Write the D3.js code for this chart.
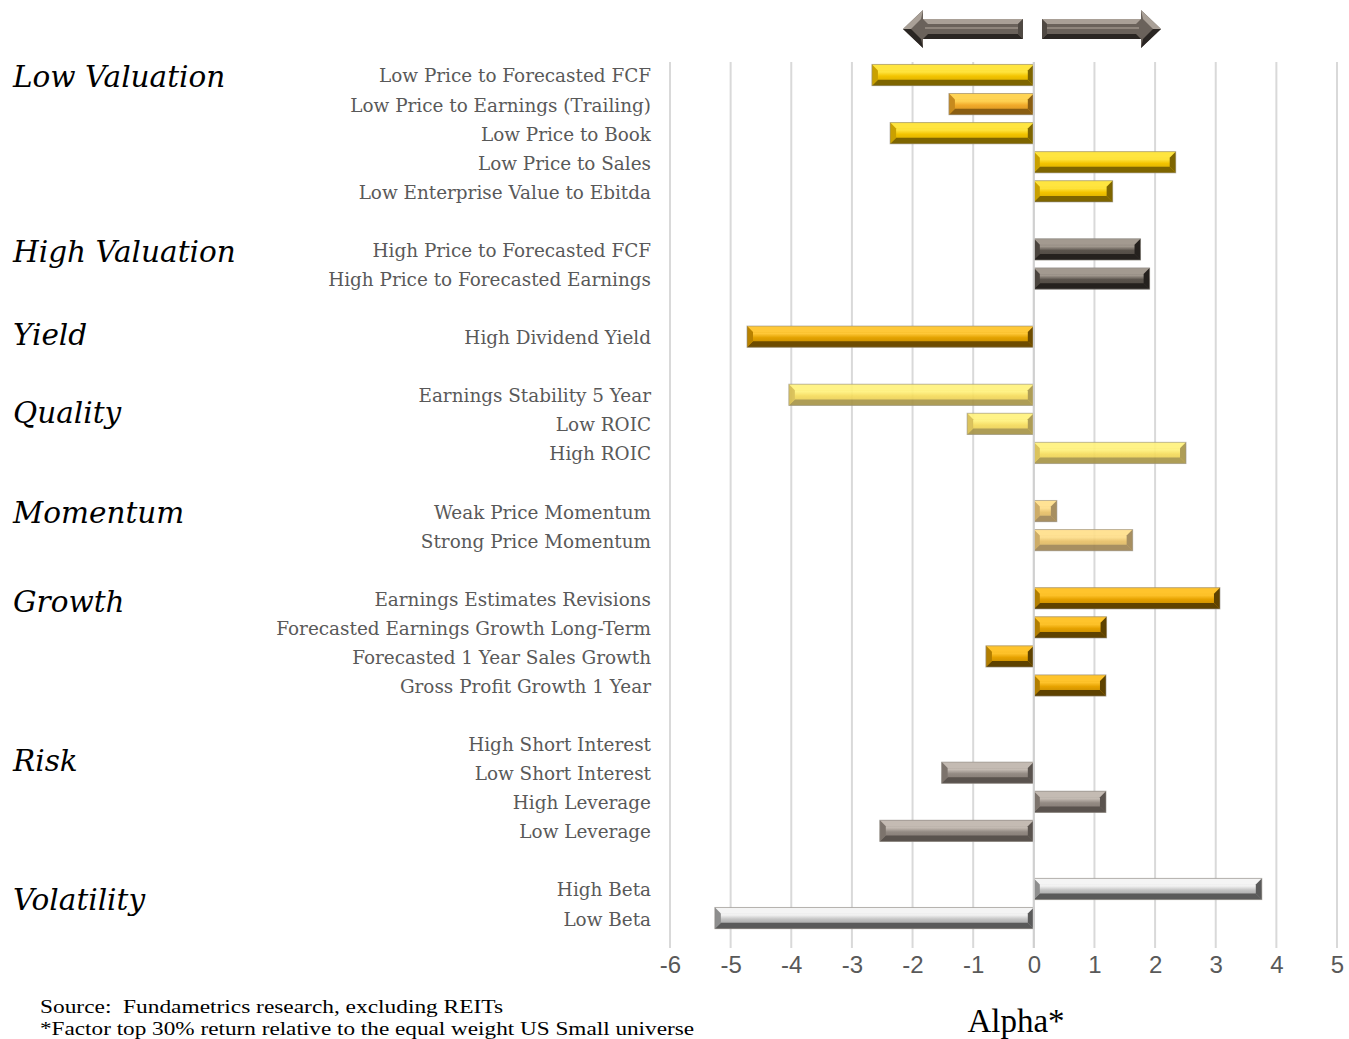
<!DOCTYPE html>
<html>
<head>
<meta charset="utf-8">
<script src="https://cdnjs.cloudflare.com/ajax/libs/d3/7.8.5/d3.min.js"></script>
<style>
  html, body { margin: 0; padding: 0; background: #fff; }
  svg { display: block; }
</style>
</head>
<body>
<svg id="chart" width="1349" height="1039"></svg>
<script>
// Factor rows, top to bottom; "" marks a spacer row between groups.
const factors = [
  "Low Price to Forecasted FCF", "Low Price to Earnings (Trailing)", "Low Price to Book",
  "Low Price to Sales", "Low Enterprise Value to Ebitda", "",
  "High Price to Forecasted FCF", "High Price to Forecasted Earnings", "",
  "High Dividend Yield", "",
  "Earnings Stability 5 Year", "Low ROIC", "High ROIC", "",
  "Weak Price Momentum", "Strong Price Momentum", "",
  "Earnings Estimates Revisions", "Forecasted Earnings Growth Long-Term",
  "Forecasted 1 Year Sales Growth", "Gross Profit Growth 1 Year", "",
  "High Short Interest", "Low Short Interest", "High Leverage", "Low Leverage", "",
  "High Beta", "Low Beta"
];
// Alpha (%) per factor row
const alpha = [
  -2.67, -1.40, -2.37, 2.34, 1.30, null,
  1.76, 1.91, null,
  -4.73, null,
  -4.04, -1.10, 2.51, null,
  0.38, 1.63, null,
  3.07, 1.20, -0.79, 1.19, null,
  0, -1.52, 1.19, -2.54, null,
  3.76, -5.26
];
// Colour style per factor row
const styleKey = [
  "lowval", "lowpe", "lowval", "lowval", "lowval", null,
  "highval", "highval", null,
  "yield", null,
  "quality", "quality", "quality", null,
  "momentum", "momentum", null,
  "growth", "growth", "growth", "growth", null,
  "risk", "risk", "risk", "risk", null,
  "vol", "vol"
];
// Group headings and the row they sit beside
const groups = ["Low Valuation", "High Valuation", "Yield", "Quality", "Momentum", "Growth", "Risk", "Volatility"];
const groupRow = [0, 6, 8.85, 11.55, 15, 18.05, 23.5, 28.3];
const xTicks = [-6, -5, -4, -3, -2, -1, 0, 1, 2, 3, 4, 5];
const notes = [
  "Source:  Fundametrics research, excluding REITs",
  "*Factor top 30% return relative to the equal weight US Small universe"
];

const palette = {
  lowval:   { face: "#F3C400", light: "#FFE540", mid: "#C9A000", dark: "#7E6500" },
  lowpe:    { face: "#F2AA2A", light: "#FFD455", mid: "#C68A1E", dark: "#8A5E12" },
  highval:  { face: "#5A534C", light: "#A39A90", mid: "#4A443E", dark: "#25211E" },
  yield:    { face: "#E3A200", light: "#FFC838", mid: "#B88200", dark: "#6E4C00" },
  quality:  { face: "#F6DC5C", light: "#FFF27E", mid: "#D8BE50", dark: "#A89548" },
  momentum: { face: "#E8C168", light: "#FFE08C", mid: "#C9A65C", dark: "#A08654" },
  growth:   { face: "#E6A200", light: "#FFC42C", mid: "#B27E00", dark: "#5E4200" },
  risk:     { face: "#938A83", light: "#C4BBB3", mid: "#7C736C", dark: "#5A534E" },
  vol:      { face: "#C4C4C4", light: "#F4F4F4", mid: "#8E8E8E", dark: "#5A5A5A" }
};

const svg = d3.select("#chart");
const x = d3.scaleLinear().domain([-6, 5]).range([670, 1337]);
const y = d3.scaleBand().domain(d3.range(factors.length)).range([60.5, 932.6]).paddingInner(0.27).paddingOuter(0.135);

const defs = svg.append("defs");
// face gradient per colour style: light band in the upper middle, darker toward the bottom
Object.entries(palette).forEach(([k, c]) => {
  const g = defs.append("linearGradient").attr("id", "face-" + k)
    .attr("x1", 0).attr("y1", 0).attr("x2", 0).attr("y2", 1);
  g.append("stop").attr("offset", "0%").attr("stop-color", c.face);
  g.append("stop").attr("offset", "35%").attr("stop-color", c.light);
  g.append("stop").attr("offset", "55%").attr("stop-color", c.face);
  g.append("stop").attr("offset", "100%").attr("stop-color", c.mid);
});

// vertical gridlines
svg.append("g").selectAll("line").data(xTicks).join("line")
  .attr("x1", d => x(d)).attr("x2", d => x(d))
  .attr("y1", 62).attr("y2", 948)
  .attr("stroke", "#d9d9d9").attr("stroke-width", 2);

// bevelled bars
const rows = d3.range(factors.length).filter(i => alpha[i] !== null && alpha[i] !== 0);
const barG = svg.append("g");
rows.forEach(i => {
  const c = palette[styleKey[i]];
  const x0 = Math.min(x(0), x(alpha[i])), x1 = Math.max(x(0), x(alpha[i]));
  const y0 = y(i), h = y.bandwidth(), y1 = y0 + h;
  const b = Math.min(6, (x1 - x0) / 2, h / 2);
  const g = barG.append("g").attr("opacity", styleKey[i] === "quality" || styleKey[i] === "momentum" ? 0.92 : 1);
  g.append("rect").attr("x", x0).attr("y", y0).attr("width", x1 - x0).attr("height", h)
    .attr("fill", "url(#face-" + styleKey[i] + ")");
  const poly = (pts, fill) => g.append("polygon").attr("points", pts.map(p => p.join(",")).join(" ")).attr("fill", fill);
  poly([[x0, y0], [x1, y0], [x1 - b, y0 + b], [x0 + b, y0 + b]], c.light);
  poly([[x0, y1], [x1, y1], [x1 - b, y1 - b], [x0 + b, y1 - b]], c.dark);
  poly([[x0, y0], [x0 + b, y0 + b], [x0 + b, y1 - b], [x0, y1]], c.mid);
  poly([[x1, y0], [x1 - b, y0 + b], [x1 - b, y1 - b], [x1, y1]], c.dark);
  g.append("rect").attr("x", x0).attr("y", y0).attr("width", x1 - x0).attr("height", h)
    .attr("fill", "none").attr("stroke", "#8f8a84").attr("stroke-opacity", 0.6).attr("stroke-width", 1);
});

// zero line on top of bar ends
svg.append("line").attr("x1", x(0)).attr("x2", x(0)).attr("y1", 62).attr("y2", 948)
  .attr("stroke", "#d0d0d0").attr("stroke-width", 2);

// x axis tick labels
const xAxis = d3.axisBottom(x).tickValues(xTicks).tickSize(0).tickPadding(0).tickFormat(d3.format("d"));
const ax = svg.append("g").attr("transform", "translate(0,956)").call(xAxis);
ax.select(".domain").remove();
ax.selectAll("text").attr("font-family", "'Liberation Sans', Arial, sans-serif")
  .attr("font-size", 24).attr("fill", "#595959").attr("dy", "0.71em")
  .text(d => d < 0 ? "-" + Math.abs(d) : d);

// factor labels
svg.append("g").selectAll("text").data(d3.range(factors.length).filter(i => factors[i])).join("text")
  .attr("x", 651).attr("y", i => y(i) + y.bandwidth() / 2 + 1).attr("dy", "0.35em")
  .attr("text-anchor", "end").attr("font-family", "'DejaVu Serif', Georgia, serif")
  .attr("font-size", 18.4).attr("fill", "#595959").text(i => factors[i]);

// group headings
svg.append("g").selectAll("text").data(groups).join("text")
  .attr("x", 13).attr("y", (d, k) => y(0) + y.bandwidth() / 2 + 2 + groupRow[k] * y.step()).attr("dy", "0.35em")
  .attr("font-family", "'DejaVu Serif', Georgia, serif").attr("font-style", "italic")
  .attr("font-size", 29.5).attr("fill", "#000").text(d => d);

// axis title
svg.append("text").attr("x", 1016).attr("y", 1032).attr("text-anchor", "middle")
  .attr("font-family", "'Liberation Serif', 'Times New Roman', serif").attr("font-size", 33)
  .attr("fill", "#000").text("Alpha*");

// source notes
const noteWidth = [463, 654];
svg.append("g").selectAll("text").data(notes).join("text")
  .attr("x", 40).attr("y", (d, k) => 1013 + k * 22)
  .attr("font-family", "'Liberation Serif', 'Times New Roman', serif").attr("font-size", 19.5)
  .attr("textLength", (d, k) => noteWidth[k]).attr("lengthAdjust", "spacingAndGlyphs")
  .style("white-space", "pre")
  .attr("fill", "#000").text(d => d);

// direction arrows above the plot
const arrowC = { face: "#6A625B", light: "#A9A097", mid: "#4F4943", dark: "#2A2623" };
function arrow(xTail, xTip, cy) {
  const dir = Math.sign(xTip - xTail);
  const shaftH = 20, headH = 38, headL = 20;
  const xNeck = xTip - dir * headL;
  const g = svg.append("g");
  const pts = [[xTail, cy - shaftH / 2], [xNeck, cy - shaftH / 2], [xNeck, cy - headH / 2], [xTip, cy],
               [xNeck, cy + headH / 2], [xNeck, cy + shaftH / 2], [xTail, cy + shaftH / 2]];
  g.append("polygon").attr("points", pts.map(p => p.join(",")).join(" ")).attr("fill", arrowC.face);
  const b = 5;
  const p = (a, f) => g.append("polygon").attr("points", a.map(q => q.join(",")).join(" ")).attr("fill", f);
  p([[xTail, cy - shaftH / 2], [xNeck, cy - shaftH / 2], [xNeck - dir * b, cy - shaftH / 2 + b], [xTail + dir * b, cy - shaftH / 2 + b]], arrowC.light);
  p([[xTail, cy + shaftH / 2], [xNeck, cy + shaftH / 2], [xNeck - dir * b, cy + shaftH / 2 - b], [xTail + dir * b, cy + shaftH / 2 - b]], arrowC.dark);
  p([[xTail, cy - shaftH / 2], [xTail + dir * b, cy - shaftH / 2 + b], [xTail + dir * b, cy + shaftH / 2 - b], [xTail, cy + shaftH / 2]], arrowC.mid);
  p([[xNeck, cy - headH / 2], [xTip, cy], [xTip - dir * 8, cy], [xNeck + dir * 2, cy - headH / 2 + 9]], arrowC.light);
  p([[xNeck, cy + headH / 2], [xTip, cy], [xTip - dir * 8, cy], [xNeck + dir * 2, cy + headH / 2 - 9]], arrowC.dark);
  g.append("line").attr("x1", xTail + dir * b).attr("x2", xNeck - dir * 2).attr("y1", cy - 1).attr("y2", cy - 1)
    .attr("stroke", "#8f867d").attr("stroke-width", 2);
}
arrow(1023, 903, 29);
arrow(1042, 1161, 29);
</script>
</body>
</html>
